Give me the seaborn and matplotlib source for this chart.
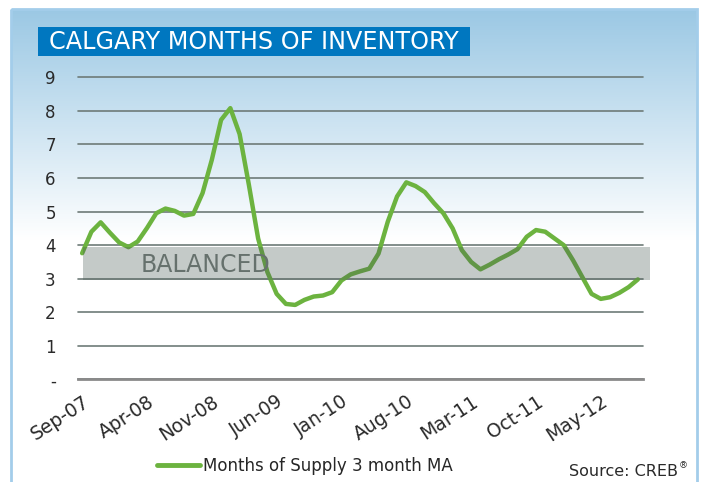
import numpy as np
import pandas as pd
import matplotlib.pyplot as plt
from matplotlib.patches import Rectangle
from matplotlib.colors import LinearSegmentedColormap
import seaborn as sns

# monthly data, Sep-07 .. Sep-12
months = pd.date_range("2007-09-01", periods=61, freq="MS")
supply = [3.76, 4.40, 4.68, 4.37, 4.08, 3.94, 4.11, 4.51, 4.95, 5.09,
          5.02, 4.88, 4.93, 5.55, 6.54, 7.73, 8.08, 7.31, 5.80, 4.20,
          3.20, 2.55, 2.25, 2.22, 2.37, 2.47, 2.50, 2.60, 2.95, 3.13,
          3.22, 3.30, 3.75, 4.70, 5.45, 5.87, 5.76, 5.58, 5.25, 4.95,
          4.50, 3.85, 3.50, 3.28, 3.42, 3.58, 3.72, 3.88, 4.25, 4.45,
          4.40, 4.20, 4.00, 3.55, 3.05, 2.55, 2.40, 2.45, 2.58, 2.75,
          2.98]
tick_every = 7
y_ticks = list(range(0, 10))
y_labels = ["-"] + [str(v) for v in y_ticks[1:]]
balanced_low, balanced_high = 2.95, 3.95

df = pd.DataFrame({"idx": np.arange(len(months)), "supply": supply})
x_ticks = df["idx"][::tick_every].tolist()
x_labels = [m.strftime("%b-%y") for m in months[::tick_every]]

sns.set_style("white")
plt.rcParams["font.family"] = ["DejaVu Sans"]

fig = plt.figure(figsize=(7.05, 4.82), dpi=100)

# background panel with gradient
bg = fig.add_axes([0, 0, 1, 1], zorder=0)
grad = np.linspace(0, 1, 256).reshape(-1, 1)
sky = LinearSegmentedColormap.from_list("sky", ["#9bc8e4", "#ffffff"])
bg.imshow(grad, cmap=sky, extent=[11, 697, 240, 9], aspect="auto")
bg.add_patch(Rectangle((11, 9), 686, 480, fill=False, ec="#a3cdea", lw=2))
bg.add_patch(Rectangle((38, 27), 432, 29, fc="#0077c0", ec="none"))
bg.text(254, 42, "CALGARY MONTHS OF INVENTORY", color="white", fontsize=17.2,
        ha="center", va="center")
bg.set_xlim(0, 705)
bg.set_ylim(482, 0)
bg.axis("off")

ax = fig.add_axes([0.1106, 0.2127, 0.8014, 0.627], zorder=1)
ax.set_facecolor("none")
sns.lineplot(data=df, x="idx", y="supply", color="#6cb33f", lw=3.2, ax=ax,
             label="Months of Supply 3 month MA", legend=False, zorder=2)

# balanced band drawn over the line
ax.add_patch(Rectangle((0.1, balanced_low), 61.2, balanced_high - balanced_low,
                       fc="#4a5a55", alpha=0.32, ec="none", clip_on=False, zorder=3))
ax.text(6.3, (balanced_low + balanced_high) / 2 - 0.05, "BALANCED", color="#66716d",
        fontsize=17, ha="left", va="center", zorder=4)

ax.set_xlim(-0.45, 60.55)
ax.set_ylim(0, 9)
ax.set_yticks(y_ticks)
ax.set_yticklabels(y_labels)
ax.set_xticks(x_ticks)
ax.set_xticklabels(x_labels, rotation=33, ha="right", va="top", rotation_mode="anchor")
ax.tick_params(axis="y", length=0, pad=16, labelsize=12, labelcolor="#2a2a2a")
ax.tick_params(axis="x", length=0, pad=9, labelsize=13.5, labelcolor="#2a2a2a")
ax.yaxis.grid(True, color="#6e7b78", lw=1.2)
ax.xaxis.grid(False)
for gl in ax.get_ygridlines():
    gl.set_clip_on(False)
for s in ["top", "right", "left"]:
    ax.spines[s].set_visible(False)
ax.spines["bottom"].set_color("#8a8a8a")
ax.spines["bottom"].set_linewidth(2)
ax.set_xlabel("")
ax.set_ylabel("")

handles, labels = ax.get_legend_handles_labels()
leg = fig.legend(handles, labels, loc="center left", bbox_to_anchor=(142 / 705, 1 - 466 / 482),
                 frameon=False, fontsize=12, handlelength=2.6, handletextpad=0.15)
leg.get_lines()[0].set_linewidth(3.5)

fig.text(678 / 705, 1 - 471 / 482, "Source: CREB", ha="right", va="center",
         fontsize=11.5, color="#2a2a2a")
fig.text(679 / 705, 1 - 466 / 482, "®", ha="left", va="center", fontsize=6.5, color="#2a2a2a")

fig.savefig("out.png", dpi=100)
